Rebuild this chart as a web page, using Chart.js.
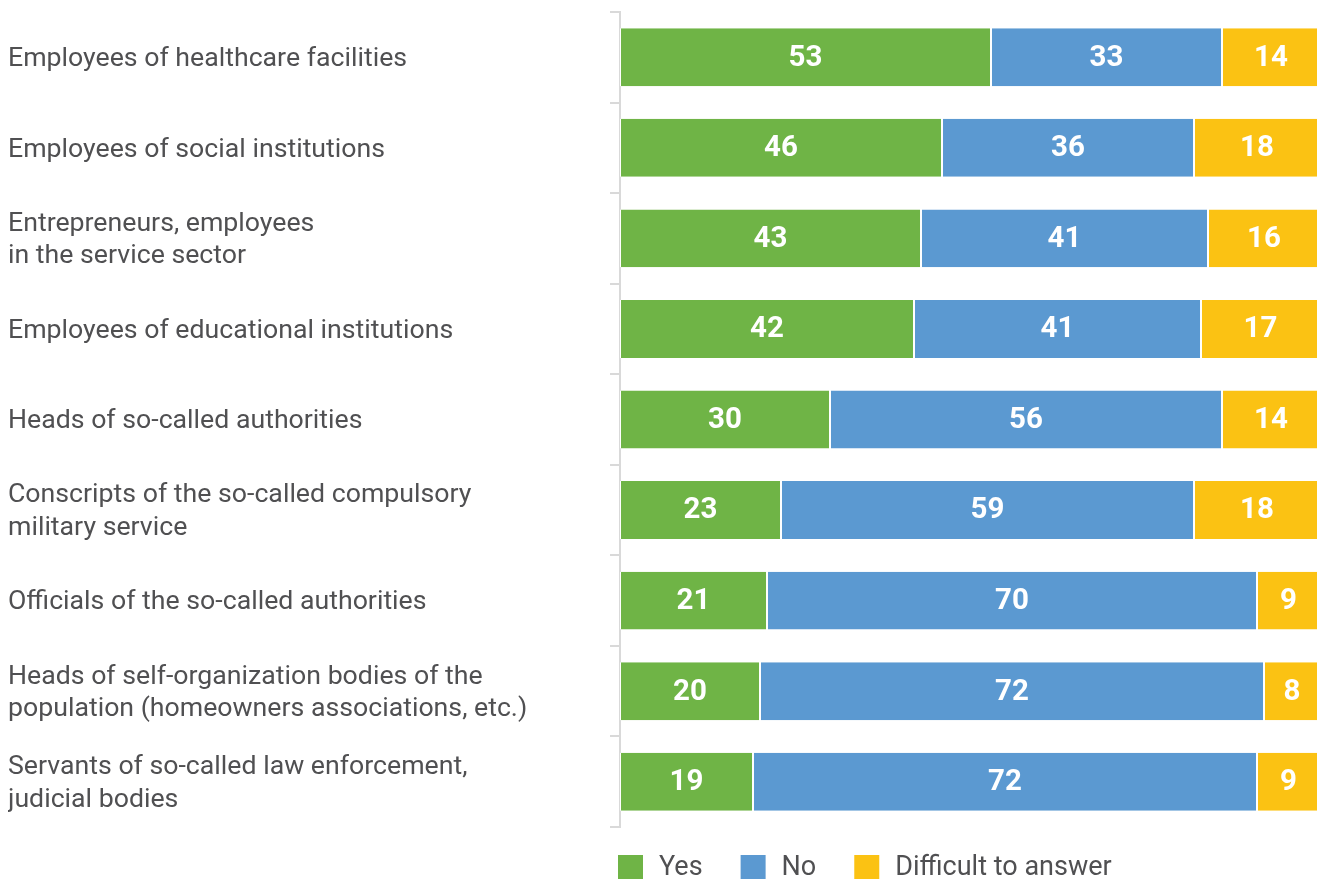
<!DOCTYPE html>
<html>
<head>
<meta charset="utf-8">
<script src="https://cdn.jsdelivr.net/npm/chart.js@4/dist/chart.umd.min.js"></script>
<style>
  html, body { margin: 0; background: #fff; overflow: hidden; }
  /* a barra de 100% passa um pouco da borda direita da janela */
  .box { width: 1320px; height: 879px; }
</style>
</head>
<body>
<div class="box"><canvas id="grafico"></canvas></div>
<script>
const categorias = [
    ['Employees of healthcare facilities'],
    ['Employees of social institutions'],
    ['Entrepreneurs, employees', 'in the service sector'],
    ['Employees of educational institutions'],
    ['Heads of so-called authorities'],
    ['Conscripts of the so-called compulsory', 'military service'],
    ['Officials of the so-called authorities'],
    ['Heads of self-organization bodies of the', 'population (homeowners associations, etc.)'],
    ['Servants of so-called law enforcement,', 'judicial bodies']
];
const sim = [53, 46, 43, 42, 30, 23, 21, 20, 19];
const nao = [33, 36, 41, 41, 56, 59, 70, 72, 72];
const dificil = [14, 18, 16, 17, 14, 18, 9, 8, 9];

const corTexto = '#505052';
const cinza = '#d9d9d9';

// numeros brancos no meio de cada barra
const rotulosBarras = {
    id: 'rotulosBarras',
    afterDatasetsDraw(chart) {
        const ctx = chart.ctx;
        ctx.save();
        ctx.fillStyle = '#fff';
        ctx.font = 'bold 29.5px Roboto';
        ctx.textAlign = 'center';
        ctx.textBaseline = 'middle';
        chart.data.datasets.forEach((ds, i) => {
            chart.getDatasetMeta(i).data.forEach((bar, j) => {
                ctx.fillText(ds.data[j], (bar.x + bar.base) / 2, bar.y + 1);
            });
        });
        ctx.restore();
    }
};

// legenda embaixo, alinhada com o inicio das barras
const legendaBaixo = {
    id: 'legendaBaixo',
    afterDraw(chart) {
        const ctx = chart.ctx;
        const area = chart.chartArea;
        let x = area.left - 2;
        const y = area.bottom + 28;
        ctx.save();
        ctx.font = '27px Roboto';
        ctx.textBaseline = 'middle';
        ctx.textAlign = 'left';
        chart.data.datasets.forEach(ds => {
            ctx.fillStyle = ds.backgroundColor;
            ctx.fillRect(x, y, 25, 25);
            ctx.fillStyle = corTexto;
            ctx.fillText(ds.label, x + 41, y + 13);
            x += 41 + ctx.measureText(ds.label).width + 38;
        });
        ctx.restore();
    }
};

const data = {
    labels: categorias,
    datasets: [{
        label: 'Yes',
        data: sim,
        backgroundColor: '#6fb446'
    }, {
        label: 'No',
        data: nao,
        backgroundColor: '#5b99d1'
    }, {
        label: 'Difficult to answer',
        data: dificil,
        backgroundColor: '#fbc213'
    }]
};

data.datasets.forEach(ds => {
    ds.borderColor = '#fff';
    ds.borderWidth = { left: 1, right: 1, top: 0, bottom: 0 };
    ds.borderSkipped = false;
    ds.categoryPercentage = 1;
    ds.barPercentage = 0.64;
});

const config = {
    type: 'bar',
    data: data,
    plugins: [rotulosBarras, legendaBaixo],
    options: {
        indexAxis: 'y',
        responsive: true,
        maintainAspectRatio: false,
        animation: false,
        layout: { padding: { top: 12, left: 8, right: 0, bottom: 52 } },
        plugins: {
            legend: { display: false },
            tooltip: { enabled: false }
        },
        scales: {
            x: {
                stacked: true,
                display: false,
                min: 0,
                max: 100
            },
            y: {
                stacked: true,
                afterFit(scale) {
                    scale.width = 612;
                    scale.paddingTop = 0;
                    scale.paddingBottom = 0;
                },
                border: { color: cinza, width: 2 },
                grid: {
                    offset: true,
                    drawOnChartArea: false,
                    tickLength: 10,
                    color: cinza,
                    lineWidth: 2
                },
                ticks: {
                    crossAlign: 'far',
                    labelOffset: 2,
                    color: corTexto,
                    font: { family: 'Roboto', size: 26.7, lineHeight: 1.22 }
                }
            }
        }
    }
};

const meuGrafico = new Chart(document.getElementById('grafico'), config);
</script>
</body>
</html>
